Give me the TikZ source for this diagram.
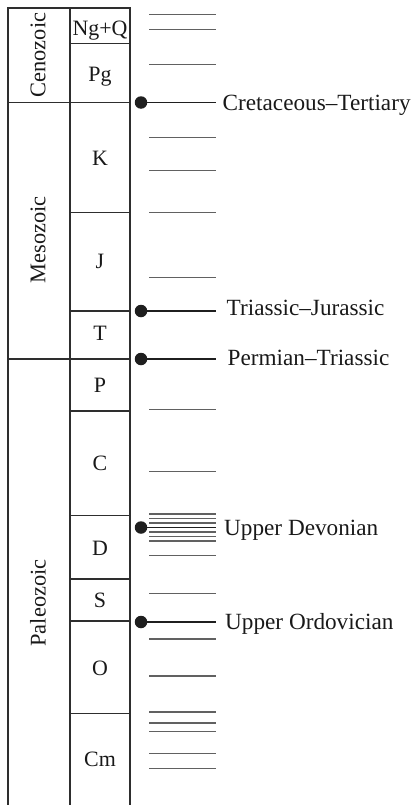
\documentclass[tikz,border=0pt]{standalone}
\usepackage{fontspec}
\setmainfont{Liberation Serif}
\begin{document}
\begin{tikzpicture}[x=1bp,y=-1bp,
  frame/.style={draw=black!82, line width=1.6bp},
  tick/.style={draw=black!62, line width=1.3bp},
  mline/.style={draw=black!88, line width=1.7bp},
  dot/.style={circle, fill=black!88, inner sep=0pt, minimum size=12.5bp},
  per/.style={font=\fontsize{22}{26}\selectfont, text=black!90, anchor=base, inner sep=0pt},
  era/.style={font=\fontsize{22.5}{26}\selectfont, rotate=90, text=black!90, inner sep=0pt},
  evt/.style={font=\fontsize{23.3}{27}\selectfont, anchor=base west, inner sep=0pt, text=black!90}]
\useasboundingbox (0,0) rectangle (414,805);
% column frame
\draw[frame] (8,805) -- (8,8) -- (130,8) -- (130,805);
\draw[frame] (70,8) -- (70,805);
% era boundaries
\draw[frame] (8,102.5) -- (130,102.5);
\draw[frame] (8,359) -- (130,359);
% period boundaries
\foreach \yy in {43.5,212.5,311,411,515.5,579,621,713.5}
  \draw[frame] (70,\yy) -- (130,\yy);
% era labels
\node[era] (cen) at (38,55) {Cenozoic};
\node[era] (mes) at (38,240) {Mesozoic};
\node[era] (pal) at (38,603) {Paleozoic};
% period labels
\node[per] (ngq) at (100,36) {Ng+Q};
\node[per] (pg) at (100,81.7) {Pg};
\node[per] (k) at (100,165) {K};
\node[per] (j) at (100,268.3) {J};
\node[per] (t) at (100,340) {T};
\node[per] (p) at (100,392.3) {P};
\node[per] (c) at (100,470.7) {C};
\node[per] (d) at (100,555.3) {D};
\node[per] (s) at (100,607.3) {S};
\node[per] (o) at (100,675) {O};
\node[per] (cm) at (100,766.7) {Cm};
% extinction ticks
\foreach \yy in {14.3,29.3,64.3,137.7,170.3,212.3,277.3,409.3,471.7,514,518.5,523,532,536.5,541,555.3,593.3,639,676,712,723,731.7,753.3,768.7}
  \draw[tick] (149,\yy) -- (216,\yy);
% mass extinction markers
\node[dot] (m1) at (141,102.5) {};
\node[dot] (m2) at (141,311) {};
\node[dot] (m3) at (141,359) {};
\node[dot] (m4) at (141,527.5) {};
\node[dot] (m5) at (141,622) {};
\coordinate (e1) at (216,102.5);
\coordinate (e2) at (216,311);
\coordinate (e3) at (216,359);
\coordinate (e4) at (216,527.5);
\coordinate (e5) at (216,622);
\draw[mline] (m1) -- (e1);
\draw[mline] (m2) -- (e2);
\draw[mline] (m3) -- (e3);
\draw[mline] (m4) -- (e4);
\draw[mline] (m5) -- (e5);
\node[evt] (l1) at (222.5,110) {Cretaceous–Tertiary};
\node[evt] (l2) at (226.5,315.5) {Triassic–Jurassic};
\node[evt] (l3) at (227.5,365.5) {Permian–Triassic};
\node[evt] (l4) at (224,535.5) {Upper Devonian};
\node[evt] (l5) at (225,629.5) {Upper Ordovician};
\end{tikzpicture}
\end{document}
